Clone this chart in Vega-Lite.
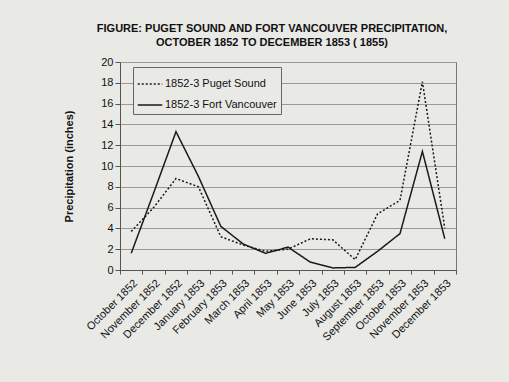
{
  "$schema": "https://vega.github.io/schema/vega-lite/v6.json",
  "width": 336,
  "height": 208,
  "autosize": {"type": "none"},
  "padding": {"left": 120, "top": 62, "right": 53, "bottom": 112},
  "background": "#e9e9e6",
  "title": {
    "text": ["FIGURE: PUGET SOUND AND FORT VANCOUVER PRECIPITATION,", "OCTOBER 1852 TO DECEMBER 1853 ( 1855)"],
    "font": "Liberation Sans",
    "fontSize": 11,
    "fontWeight": "bold",
    "color": "#111",
    "anchor": "middle",
    "dx": -16,
    "offset": 8,
    "lineHeight": 14
  },
  "config": {
    "font": "Liberation Sans",
    "view": {"stroke": "#777", "strokeWidth": 1}
  },
  "data": {
    "values": [
      {"month": "October 1852", "series": "1852-3 Puget Sound", "inches": 3.7},
      {"month": "November 1852", "series": "1852-3 Puget Sound", "inches": 6.0},
      {"month": "December 1852", "series": "1852-3 Puget Sound", "inches": 8.8},
      {"month": "January 1853", "series": "1852-3 Puget Sound", "inches": 8.0},
      {"month": "February 1853", "series": "1852-3 Puget Sound", "inches": 3.2},
      {"month": "March 1853", "series": "1852-3 Puget Sound", "inches": 2.4},
      {"month": "April 1853", "series": "1852-3 Puget Sound", "inches": 1.8},
      {"month": "May 1853", "series": "1852-3 Puget Sound", "inches": 2.0},
      {"month": "June 1853", "series": "1852-3 Puget Sound", "inches": 3.0},
      {"month": "July 1853", "series": "1852-3 Puget Sound", "inches": 2.9},
      {"month": "August 1853", "series": "1852-3 Puget Sound", "inches": 1.0},
      {"month": "September 1853", "series": "1852-3 Puget Sound", "inches": 5.4},
      {"month": "October 1853", "series": "1852-3 Puget Sound", "inches": 6.7},
      {"month": "November 1853", "series": "1852-3 Puget Sound", "inches": 18.1},
      {"month": "December 1853", "series": "1852-3 Puget Sound", "inches": 4.0},
      {"month": "October 1852", "series": "1852-3 Fort Vancouver", "inches": 1.6},
      {"month": "November 1852", "series": "1852-3 Fort Vancouver", "inches": 7.4},
      {"month": "December 1852", "series": "1852-3 Fort Vancouver", "inches": 13.3},
      {"month": "January 1853", "series": "1852-3 Fort Vancouver", "inches": 9.0},
      {"month": "February 1853", "series": "1852-3 Fort Vancouver", "inches": 4.2},
      {"month": "March 1853", "series": "1852-3 Fort Vancouver", "inches": 2.5},
      {"month": "April 1853", "series": "1852-3 Fort Vancouver", "inches": 1.6},
      {"month": "May 1853", "series": "1852-3 Fort Vancouver", "inches": 2.2},
      {"month": "June 1853", "series": "1852-3 Fort Vancouver", "inches": 0.75},
      {"month": "July 1853", "series": "1852-3 Fort Vancouver", "inches": 0.2},
      {"month": "August 1853", "series": "1852-3 Fort Vancouver", "inches": 0.25},
      {"month": "September 1853", "series": "1852-3 Fort Vancouver", "inches": 1.8},
      {"month": "October 1853", "series": "1852-3 Fort Vancouver", "inches": 3.5},
      {"month": "November 1853", "series": "1852-3 Fort Vancouver", "inches": 11.4},
      {"month": "December 1853", "series": "1852-3 Fort Vancouver", "inches": 3.0}
    ]
  },
  "mark": {"type": "line", "strokeWidth": 1.5, "color": "#1a1a1a"},
  "encoding": {
    "x": {
      "field": "month",
      "type": "nominal",
      "sort": null,
      "scale": {"type": "band", "paddingInner": 0, "paddingOuter": 0},
      "axis": {
        "title": null,
        "labelAngle": -45,
        "labelAlign": "right",
        "labelBaseline": "top",
        "labelFontSize": 11,
        "labelColor": "#111",
        "tickBand": "extent",
        "tickSize": 4,
        "tickColor": "#555",
        "domainColor": "#555",
        "labelPadding": 3
      }
    },
    "y": {
      "field": "inches",
      "type": "quantitative",
      "scale": {"domain": [0, 20]},
      "axis": {
        "title": "Precipitation (inches)",
        "titleFontSize": 11,
        "titleFontWeight": "bold",
        "titleColor": "#111",
        "titlePadding": 26,
        "values": [0, 2, 4, 6, 8, 10, 12, 14, 16, 18, 20],
        "labelFontSize": 11,
        "labelColor": "#111",
        "gridColor": "#999",
        "tickColor": "#555",
        "domainColor": "#555",
        "tickSize": 5
      }
    },
    "strokeDash": {
      "field": "series",
      "type": "nominal",
      "scale": {
        "domain": ["1852-3 Puget Sound", "1852-3 Fort Vancouver"],
        "range": [[2, 2], [1, 0]]
      },
      "legend": {
        "title": null,
        "orient": "none",
        "legendX": 13,
        "legendY": 5,
        "strokeColor": "#666",
        "fillColor": "#e9e9e6",
        "padding": 4,
        "labelFontSize": 11,
        "labelColor": "#111",
        "symbolType": "stroke",
        "symbolSize": 600,
        "symbolStrokeWidth": 1.5,
        "symbolStrokeColor": "#1a1a1a",
        "rowPadding": 3,
        "labelOffset": 2
      }
    }
  }
}
